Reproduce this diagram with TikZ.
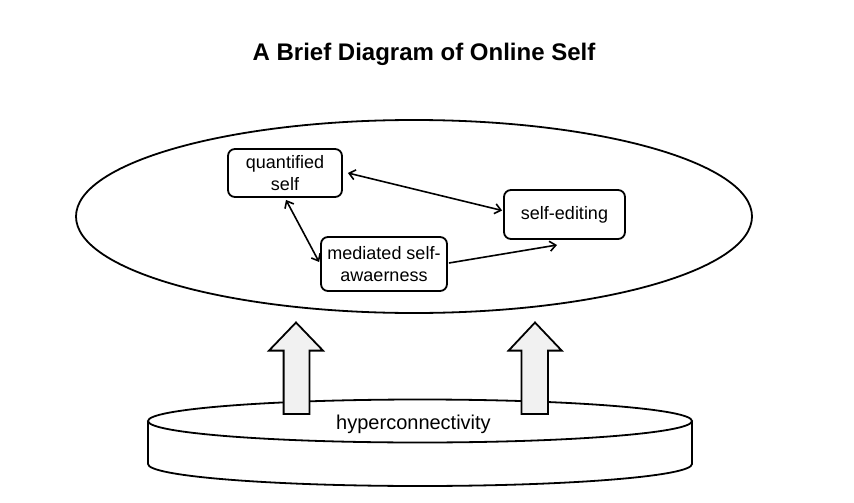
\documentclass[tikz,border=0pt]{standalone}
\usepackage{fontspec}
\setmainfont{Liberation Sans}
\usetikzlibrary{shapes.geometric,arrows.meta,calc}
\definecolor{arrowfill}{RGB}{241,241,241}
\tikzset{
  boxnode/.style={draw, rounded corners=7pt, line width=1.8pt, align=center,
    inner sep=0pt, font=\fontsize{18}{21.6}\selectfont},
  link/.style={line width=1.6pt, {Straight Barb[length=6pt,width=10pt,line width=1.6pt]}-{Straight Barb[length=6pt,width=10pt,line width=1.6pt]}},
  onelink/.style={line width=1.6pt, -{Straight Barb[length=6pt,width=10pt,line width=1.6pt]}},
  bigarrow/.style={draw, fill=arrowfill, line width=1.8pt, line join=miter},
  diskline/.style={line width=1.8pt}
}
\begin{document}
\begin{tikzpicture}[x=1pt,y=-1pt]
\useasboundingbox (0,0) rectangle (854,503);
% title
\node[anchor=base, font=\bfseries\fontsize{24}{28}\selectfont] (title) at (424,60) {A Brief Diagram of Online Self};
% big ellipse
\node[draw, ellipse, line width=1.8pt, minimum width=676pt, minimum height=193pt, inner sep=0pt] (online) at (414,216.5) {};
% boxes
\node[boxnode, minimum width=114pt, minimum height=48pt] (q) at (285,173) {quantified\\self};
\node[boxnode, minimum width=121pt, minimum height=49pt] (se) at (564.5,214.5) {self-editing};
\node[boxnode, minimum width=126pt, minimum height=54pt] (med) at (384,264) {mediated self-\\awaerness};
\coordinate (free) at (557,245);
% connectors
\draw[link] ($(q.east)+(5,0)$) -- ($(se.west)+(-1,-4)$);
\draw[link] ($(q.south)+(1,2)$) -- ($(med.west)+(-1,-2)$);
\draw[onelink] ($(med.east)+(1,-1)$) -- (free);
% disk
\draw[diskline, fill=white] (148,421) -- (148,464) arc[start angle=180, end angle=360, x radius=272pt, y radius=22pt] -- (692,421);
\draw[diskline, fill=white] (420,421) ellipse[x radius=272pt, y radius=21.5pt];
% big arrows
\draw[bigarrow] (283.6,414) -- (283.6,350.6) -- (269,350.6) -- (296,322.5) -- (323,350.6) -- (309.4,350.6) -- (309.4,414) -- cycle;
\draw[bigarrow] (521.5,414) -- (521.5,350.6) -- (508.6,350.6) -- (535,322.5) -- (561.7,350.6) -- (548,350.6) -- (548,414) -- cycle;
% disk label
\node[anchor=base, font=\fontsize{20}{24}\selectfont] (hyper) at (413.5,429) {hyperconnectivity};
\end{tikzpicture}
\end{document}
